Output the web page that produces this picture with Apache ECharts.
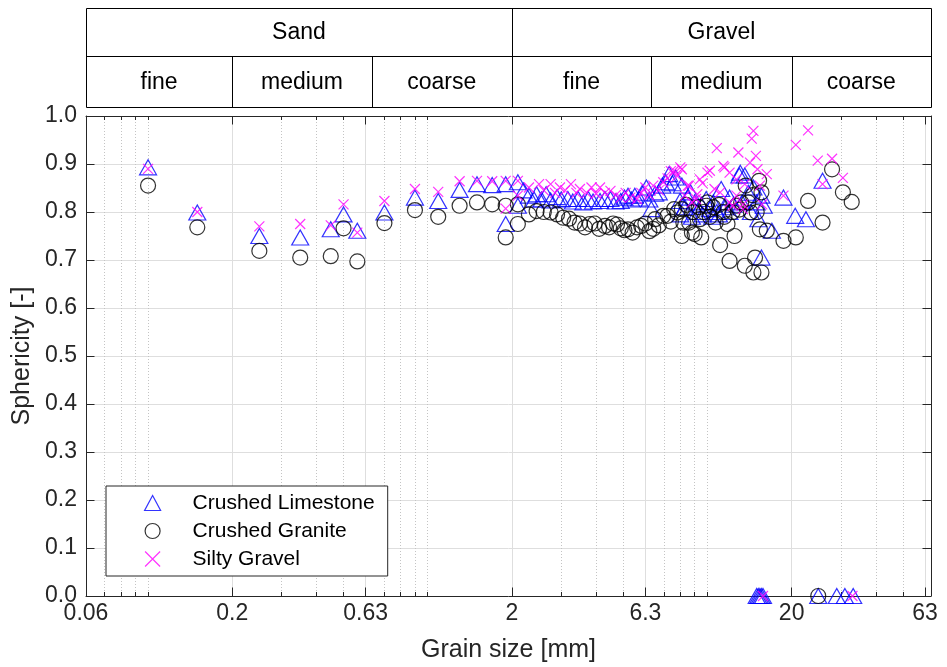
<!DOCTYPE html>
<html>
<head>
<meta charset="utf-8">
<script src="https://cdn.jsdelivr.net/npm/echarts@6/dist/echarts.min.js"></script>
<style>
html,body{margin:0;padding:0;background:#fff;}
#chart{width:947px;height:667px;}
</style>
</head>
<body>
<div id="chart"></div>
<script>
// ---------- data ----------
const seriesNames = ['Crushed Limestone', 'Crushed Granite', 'Silty Gravel'];

// [grain size mm, sphericity]
const limestoneData = [
  [0.1,0.893],[0.15,0.799],[0.25,0.750],[0.35,0.747],[0.45,0.764],[0.5,0.795],[0.56,0.761],[0.7,0.799],[0.9,0.830],[1.09,0.823],[1.3,0.846],[1.5,0.858],[1.7,0.856],[1.9,0.858],[1.9,0.775],[2.1,0.862],[2.1,0.813],
  [2.2,0.845],[2.3,0.834],[2.4,0.826],[2.45,0.837],[2.55,0.826],[2.65,0.837],[2.75,0.824],[2.9,0.831],[3.0,0.826],[3.17,0.827],[3.3,0.822],[3.45,0.827],[3.6,0.82],[3.75,0.827],[3.9,0.822],[4.13,0.823],[4.3,0.827],[4.5,0.827],[4.7,0.822],[4.9,0.823],[5.05,0.83],[5.2,0.834],[5.35,0.826],[5.5,0.834],[5.7,0.828],[5.85,0.84],[6.05,0.851],[6.2,0.826],[6.3,0.806],[6.5,0.838],
  [6.7,0.841],[6.9,0.855],[7.1,0.862],[7.3,0.879],[7.5,0.86],[7.7,0.872],[7.98,0.823],[8.0,0.795],[8.1,0.855],[8.3,0.81],[8.5,0.83],[8.7,0.841],[8.8,0.79],[9.0,0.82],[9.2,0.80],[9.5,0.815],[9.6,0.795],[9.9,0.827],[10.2,0.806],[10.4,0.79],[10.5,0.82],[10.8,0.80],[11.0,0.795],[11.2,0.848],[11.6,0.81],[12.0,0.83],[12.0,0.80],[12.4,0.815],[13.0,0.876],[13.1,0.882],[13.3,0.82],[13.6,0.876],[14.0,0.84],[14.3,0.80],[14.6,0.851],[15.0,0.82],[15.2,0.785],[15.6,0.834],[15.9,0.813],[15.6,0.705],[17.0,0.761],[18.7,0.830],
  [20.6,0.792],[22.5,0.785],[25.8,0.865],
  [15.0,0],[15.2,0],[15.4,0],[15.6,0],[15.8,0],[24.9,0],[29.0,0],[31.0,0],[33.2,0]
];

const graniteData = [
  [0.1,0.855],[0.15,0.768],[0.25,0.719],[0.35,0.705],[0.45,0.708],[0.5,0.766],[0.56,0.697],[0.7,0.777],[0.9,0.804],[1.09,0.790],[1.3,0.813],[1.5,0.820],[1.7,0.816],[1.9,0.813],[1.9,0.747],[2.1,0.816],[2.1,0.775],
  [2.3,0.795],[2.45,0.802],[2.6,0.80],[2.75,0.799],[2.9,0.795],[3.05,0.788],[3.2,0.786],[3.35,0.778],[3.5,0.776],[3.65,0.768],[3.8,0.775],[3.95,0.776],[4.1,0.765],[4.3,0.771],[4.45,0.768],[4.6,0.776],[4.75,0.774],[4.9,0.766],[5.05,0.762],[5.2,0.764],[5.4,0.757],[5.6,0.768],[5.8,0.771],[6.0,0.776],[6.2,0.76],[6.4,0.765],
  [6.5,0.785],[6.7,0.772],[6.95,0.792],[7.2,0.792],[7.4,0.78],[7.6,0.806],[7.8,0.799],[8.1,0.806],[8.2,0.778],[8.1,0.750],[8.4,0.815],[8.6,0.778],[8.8,0.757],[8.9,0.80],[9.0,0.754],[9.3,0.81],[9.4,0.785],[9.5,0.747],[9.7,0.80],[9.9,0.813],[10.0,0.82],[10.2,0.79],[10.5,0.81],[10.7,0.778],[11.0,0.815],[11.1,0.731],[11.4,0.80],[11.5,0.79],[11.8,0.775],[12.0,0.698],[12.3,0.80],[12.5,0.750],[12.7,0.813],[13.0,0.805],[13.2,0.82],[13.6,0.688],[13.7,0.855],[14.0,0.82],[14.3,0.799],[14.5,0.835],[14.6,0.674],[14.8,0.705],[15.0,0.80],[15.3,0.865],[15.6,0.841],[15.6,0.674],[15.4,0.764],[16.3,0.761],[18.7,0.740],
  [20.7,0.747],[22.9,0.823],[25.8,0.778],[27.9,0.889],[30.5,0.841],[32.8,0.821],
  [24.9,0]
];

const siltyData = [
  [0.1,0.89],[0.15,0.80],[0.25,0.770],[0.35,0.775],[0.45,0.772],[0.5,0.816],[0.56,0.757],[0.7,0.823],[0.9,0.848],[1.09,0.842],[1.3,0.864],[1.5,0.865],[1.7,0.864],[1.9,0.865],[1.9,0.807],[2.1,0.865],[2.1,0.834],
  [2.3,0.851],[2.5,0.858],[2.6,0.845],[2.75,0.858],[2.85,0.84],[2.97,0.851],[3.1,0.845],[3.25,0.858],[3.4,0.84],[3.5,0.848],[3.7,0.84],[3.85,0.851],[4.0,0.838],[4.13,0.851],[4.3,0.84],[4.5,0.844],[4.7,0.835],[4.9,0.830],[5.1,0.84],[5.3,0.83],[5.6,0.827],[5.8,0.84],[6.0,0.851],[6.2,0.835],[6.4,0.855],
  [6.7,0.845],[6.95,0.862],[7.2,0.87],[7.4,0.885],[7.6,0.886],[7.8,0.875],[8.0,0.893],[8.1,0.889],[8.3,0.834],[8.5,0.855],[8.6,0.855],[8.8,0.82],[9.1,0.827],[9.2,0.837],[9.4,0.868],[9.6,0.86],[10.0,0.882],[10.2,0.886],[10.6,0.848],[10.8,0.933],[11.1,0.841],[11.4,0.896],[11.5,0.893],[12.0,0.882],[12.0,0.82],[12.3,0.813],[12.7,0.868],[12.7,0.834],[12.9,0.924],[13.4,0.816],[13.4,0.806],[13.6,0.858],[14.2,0.903],[14.4,0.953],[14.6,0.969],[14.9,0.917],[15.1,0.889],[15.4,0.855],[15.7,0.816],[16.3,0.879],[18.7,0.834],
  [20.7,0.940],[22.9,0.970],[24.8,0.907],[25.8,0.858],[27.9,0.911],[30.5,0.871],
  [15.8,0],[33.0,0]
];

// axis ticks
const xRange = [0.06, 63];
const xTickValues = [0.06, 0.2, 0.6, 2, 6, 20, 60];
const xTickLabels = ['0.06', '0.2', '0.63', '2', '6.3', '20', '63'];
const xMinorTicks = [0.07,0.08,0.09,0.1,0.3,0.4,0.5,0.7,0.8,0.9,1,3,4,5,7,8,9,10,30,40,50];
const yRange = [0, 1];
const yStep = 0.1;

// header classification
const groupBounds = [0.06, 2, 63];
const groupNames = ['Sand', 'Gravel'];
const classBounds = [0.06, 0.2, 0.63, 2, 6.3, 20, 63];
const classNames = ['fine', 'medium', 'coarse', 'fine', 'medium', 'coarse'];

// ---------- chart ----------
const FONT = '"Liberation Sans", Arial, Helvetica, sans-serif';
const AX = '#262626';
const L = Math.log10;
const logMin = L(xRange[0]), logMax = L(xRange[1]);

function xLabel(v) {
  for (let i = 0; i < xTickValues.length; i++) {
    if (Math.abs(L(xTickValues[i]) - v) < 1e-6) return xTickLabels[i];
  }
  return '';
}

const chart = echarts.init(document.getElementById('chart'), null, {renderer: 'canvas'});

const decoAxisBase = {
  type: 'value', min: logMin, max: logMax, scale: true
};

const option = {
  animation: false,
  backgroundColor: '#fff',
  grid: {left: 86, right: 16, top: 116, bottom: 71, outerBoundsMode: 'none', containLabel: false},
  xAxis: [
    { // data axis (log)
      type: 'log', logBase: 10, min: xRange[0], max: xRange[1], position: 'bottom',
      axisLine: {show: false}, axisTick: {show: false}, axisLabel: {show: false},
      splitLine: {show: false}, minorTick: {show: false}, minorSplitLine: {show: false}
    },
    Object.assign({}, decoAxisBase, { // bottom major ticks + labels + major grid
      position: 'bottom',
      name: 'Grain size [mm]', nameLocation: 'middle', nameGap: 42,
      nameTextStyle: {fontSize: 25, fontFamily: FONT, color: AX},
      axisLine: {show: true, onZero: false, lineStyle: {color: AX, width: 1}},
      axisTick: {show: true, inside: true, length: 8.5, customValues: xTickValues.map(L), lineStyle: {color: AX, width: 1}},
      axisLabel: {show: true, customValues: xTickValues.map(L), formatter: xLabel, margin: 6,
        fontSize: 23, fontFamily: FONT, color: AX, showMinLabel: true, showMaxLabel: true},
      splitLine: {show: true, lineStyle: {color: '#dedede', width: 1, type: 'solid'}}
    }),
    Object.assign({}, decoAxisBase, { // bottom minor ticks + minor grid
      position: 'bottom',
      axisLine: {show: false, onZero: false},
      axisTick: {show: true, inside: true, length: 4, customValues: xMinorTicks.map(L), lineStyle: {color: AX, width: 1}},
      axisLabel: {show: false},
      splitLine: {show: true, lineStyle: {color: '#c4c4c4', width: 1, type: [1, 2]}}
    }),
    Object.assign({}, decoAxisBase, { // top border major ticks
      position: 'top',
      axisLine: {show: true, onZero: false, lineStyle: {color: AX, width: 1}},
      axisTick: {show: true, inside: true, length: 8.5, customValues: xTickValues.map(L), lineStyle: {color: AX, width: 1}},
      axisLabel: {show: false},
      splitLine: {show: false}
    }),
    Object.assign({}, decoAxisBase, { // top minor ticks
      position: 'top',
      axisLine: {show: false, onZero: false},
      axisTick: {show: true, inside: true, length: 4, customValues: xMinorTicks.map(L), lineStyle: {color: AX, width: 1}},
      axisLabel: {show: false},
      splitLine: {show: false}
    })
  ],
  yAxis: [
    {
      type: 'value', min: yRange[0], max: yRange[1], interval: yStep, position: 'left',
      name: 'Sphericity [-]', nameLocation: 'middle', nameGap: 51,
      nameTextStyle: {fontSize: 25, fontFamily: FONT, color: AX},
      axisLine: {show: true, onZero: false, lineStyle: {color: AX, width: 1}},
      axisTick: {show: true, inside: true, length: 8.5, lineStyle: {color: AX, width: 1}},
      axisLabel: {show: true, formatter: v => v.toFixed(1), margin: 9, fontSize: 23, fontFamily: FONT, color: AX},
      splitLine: {show: true, lineStyle: {color: '#dedede', width: 1}}
    },
    {
      type: 'value', min: yRange[0], max: yRange[1], interval: yStep, position: 'right',
      axisLine: {show: true, onZero: false, lineStyle: {color: AX, width: 1}},
      axisTick: {show: true, inside: true, length: 8.5, lineStyle: {color: AX, width: 1}},
      axisLabel: {show: false},
      splitLine: {show: false}
    }
  ],
  legend: {
    orient: 'vertical', left: 106, top: 486,
    padding: [5, 13, 5, 38], itemGap: 4, itemWidth: 16, itemHeight: 15,
    backgroundColor: '#fff', borderColor: AX, borderWidth: 1, borderRadius: 0,
    textStyle: {fontSize: 21, fontFamily: FONT, color: '#000', padding: [0, 0, 0, 27], lineHeight: 24},
    selectedMode: false,
    data: [
      {name: seriesNames[0], icon: 'triangle', itemStyle: {color: 'rgba(0,0,0,0)', borderColor: '#0000ff', borderWidth: 1.2}},
      {name: seriesNames[1], icon: 'circle', itemStyle: {color: 'rgba(0,0,0,0)', borderColor: '#000000', borderWidth: 1.2}},
      {name: seriesNames[2], icon: 'path://M0,0L10,10M10,0L0,10', itemStyle: {color: 'rgba(0,0,0,0)', borderColor: '#ff00ff', borderWidth: 1.2}}
    ]
  },
  series: [
    {
      name: seriesNames[0], type: 'scatter', xAxisIndex: 0, yAxisIndex: 0,
      data: limestoneData, symbol: 'triangle', symbolSize: [17, 15],
      itemStyle: {color: 'rgba(0,0,0,0)', borderColor: '#0000ff', borderWidth: 1.2},
      emphasis: {disabled: true}, clip: false
    },
    {
      name: seriesNames[1], type: 'scatter', xAxisIndex: 0, yAxisIndex: 0,
      data: graniteData, symbol: 'circle', symbolSize: 15,
      itemStyle: {color: 'rgba(0,0,0,0)', borderColor: '#000000', borderWidth: 1.2},
      emphasis: {disabled: true}, clip: false
    },
    {
      name: seriesNames[2], type: 'scatter', xAxisIndex: 0, yAxisIndex: 0,
      data: siltyData, symbol: 'path://M0,0L10,10M10,0L0,10', symbolSize: 10,
      itemStyle: {color: 'rgba(0,0,0,0)', borderColor: '#ff00ff', borderWidth: 1.2},
      emphasis: {disabled: true}, clip: false
    }
  ]
};

chart.setOption(option);

// ---------- header boxes (positions via the log axis) ----------
const px = v => chart.convertToPixel({xAxisIndex: 0}, v);
const snap = v => Math.round(v) + 0.5;
const hTop = 8, hMid = 56, hBot = 107;
const HC = '#000';
const g = [];
const x0 = snap(px(classBounds[0])), x1 = snap(px(classBounds[classBounds.length - 1]));
function hline(y, xa, xb) { g.push({type: 'line', shape: {x1: xa, y1: snap(y), x2: xb, y2: snap(y)}, style: {stroke: HC, lineWidth: 1}, silent: true}); }
function vline(x, ya, yb) { g.push({type: 'line', shape: {x1: x, y1: snap(ya), x2: x, y2: snap(yb)}, style: {stroke: HC, lineWidth: 1}, silent: true}); }
hline(hTop, x0, x1); hline(hMid, x0, x1); hline(hBot, x0, x1);
vline(x0, hTop, hBot); vline(x1, hTop, hBot);
for (let i = 1; i < groupBounds.length - 1; i++) vline(snap(px(groupBounds[i])), hTop, hBot);
for (let i = 1; i < classBounds.length - 1; i++) {
  if (groupBounds.indexOf(classBounds[i]) < 0) vline(snap(px(classBounds[i])), hMid, hBot);
}
for (let i = 0; i < groupNames.length; i++) {
  const cx = (px(groupBounds[i]) + px(groupBounds[i + 1])) / 2;
  g.push({type: 'text', x: cx, y: (hTop + hMid) / 2 + 1, silent: true,
    style: {text: groupNames[i], fontSize: 23, fontFamily: FONT, fill: '#000', align: 'center', verticalAlign: 'middle'}});
}
for (let i = 0; i < classNames.length; i++) {
  const cx = (px(classBounds[i]) + px(classBounds[i + 1])) / 2;
  g.push({type: 'text', x: cx, y: (hMid + hBot) / 2 + 1, silent: true,
    style: {text: classNames[i], fontSize: 23, fontFamily: FONT, fill: '#000', align: 'center', verticalAlign: 'middle'}});
}
chart.setOption({graphic: g});
</script>
</body>
</html>
